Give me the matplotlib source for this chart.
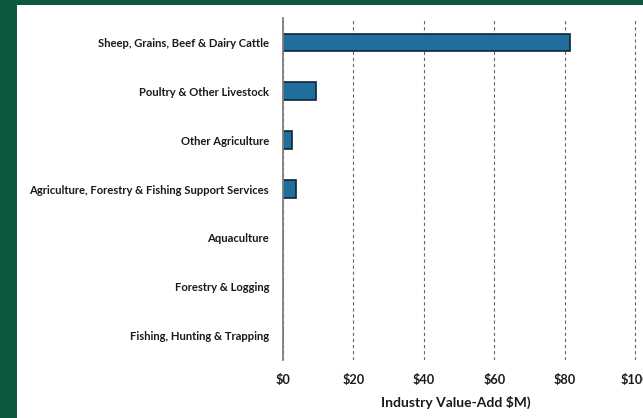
import matplotlib.pyplot as plt
from matplotlib.patches import Rectangle

# Industry value-add by sub-sector ($M)
industries = [
    "Sheep, Grains, Beef & Dairy Cattle",
    "Poultry & Other Livestock",
    "Other Agriculture",
    "Agriculture, Forestry & Fishing Support Services",
    "Aquaculture",
    "Forestry & Logging",
    "Fishing, Hunting & Trapping",
]
value_add = [81.5, 9.3, 2.6, 3.8, 0.0, 0.0, 0.0]
tick_values = [0, 20, 40, 60, 80, 100]
tick_labels = ["$0", "$20", "$40", "$60", "$80", "$100"]

plt.rcParams["font.family"] = ["Lato", "DejaVu Sans"]

fig = plt.figure(figsize=(6.43, 4.18), dpi=100, facecolor="white")
# green frame on the left and top
green = "#0b5a3e"
fig.patches.append(Rectangle((0, 0), 17 / 643, 1, transform=fig.transFigure,
                             facecolor=green, edgecolor="none"))
fig.patches.append(Rectangle((0, 1 - 5 / 418), 1, 5 / 418, transform=fig.transFigure,
                             facecolor=green, edgecolor="none"))

ax = fig.add_axes([283 / 643, 1 - 360 / 418, 370 / 643, 342 / 418])
ax.set_facecolor("white")
ax.patch.set_alpha(0)

ypos = list(range(len(industries)))
ax.barh(ypos, value_add, height=0.36, color="#1f6e9c", edgecolor="#0f2538",
        linewidth=1.2, zorder=3)

ax.set_ylim(6.5, -0.5)
ax.set_xlim(0, 105)
ax.set_yticks(ypos)
ax.set_yticklabels(industries, fontsize=8.1, fontweight="bold", color="#1a1a1a")
ax.set_xticks(tick_values)
ax.set_xticklabels(tick_labels, fontsize=9.2, fontweight="bold", color="#1a1a1a")
ax.tick_params(axis="both", length=0)
ax.tick_params(axis="y", pad=10)
ax.tick_params(axis="x", pad=10)

ax.xaxis.grid(True, linestyle=(0, (3, 2.5)), color="#666666", linewidth=0.8, zorder=1)
ax.set_axisbelow(True)

for side in ["top", "right", "bottom"]:
    ax.spines[side].set_visible(False)
ax.spines["left"].set_color("#808080")
ax.spines["left"].set_linewidth(1.3)
ax.spines["left"].set_zorder(4)

fig.text(456 / 643, 1 - 402 / 418, "Industry Value-Add $M)", ha="center", va="center",
         fontsize=10, fontweight="bold", color="#1a1a1a")

fig.savefig("out.png", dpi=100, facecolor=fig.get_facecolor())
